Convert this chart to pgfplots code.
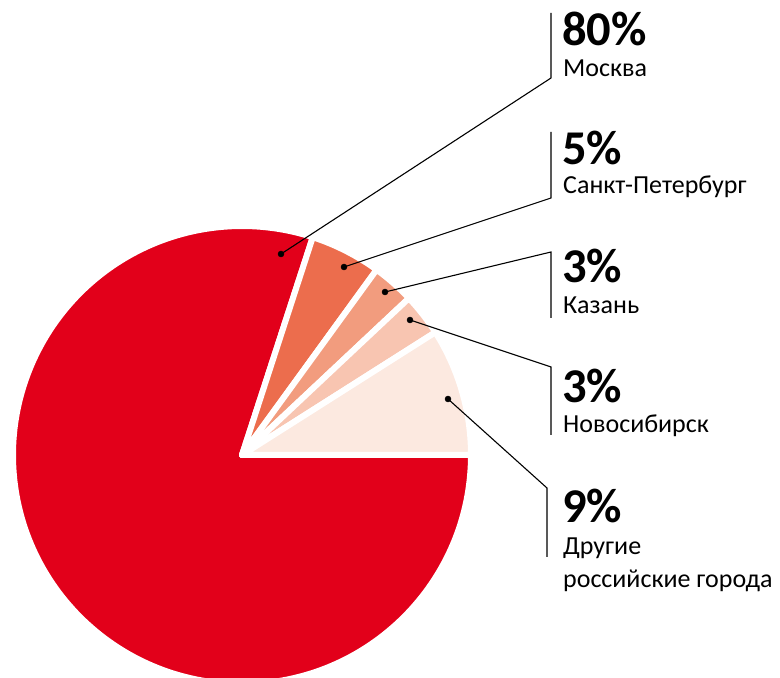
\documentclass[border=0pt]{standalone}
\usepackage{pgfplots}
\usepackage{pgfplotstable}
\pgfplotsset{compat=1.18}
\usepackage{fontspec}
\setmainfont{Carlito}
\definecolor{cMos}{HTML}{E2001A}
\definecolor{cSpb}{HTML}{EC6D4D}
\definecolor{cKaz}{HTML}{F29C7E}
\definecolor{cNov}{HTML}{F8C5B1}
\definecolor{cOth}{HTML}{FCE9E0}
% share of each city, percent (drawn clockwise from 3 o'clock)
\pgfplotstableread{
pct col
80 cMos
5 cSpb
3 cKaz
3 cNov
9 cOth
}\piedata
\newcommand{\pctfont}{\bfseries\fontsize{48.5}{50}\selectfont}
\newcommand{\namefont}{\fontsize{26}{33}\selectfont}
\begin{document}
\begin{tikzpicture}
\begin{axis}[
  x=1pt, y=1pt, scale only axis,
  xmin=0, xmax=780, ymin=0, ymax=678,
  hide axis, clip=true,
]
\def\cx{242}\def\cy{223}\def\rr{229}
\def\cum{0}
\pgfplotsforeachungrouped \i in {0,...,4}{%
  \pgfplotstablegetelem{\i}{pct}\of\piedata
  \let\p\pgfplotsretval
  \pgfplotstablegetelem{\i}{col}\of\piedata
  \let\c\pgfplotsretval
  \pgfmathsetmacro{\sa}{-3.6*\cum}%
  \pgfmathsetmacro{\ea}{-3.6*(\cum+\p)}%
  \pgfmathsetmacro{\cum}{\cum+\p}%
  \edef\temp{\noexpand\fill[fill=\c, draw=white, line width=6pt, line join=round]
    (axis cs:\cx,\cy) -- ++(\sa:\rr pt) arc[start angle=\sa, end angle=\ea, radius=\rr pt] -- cycle;}%
  \temp
}
% leader lines (pixel coords, y = 678 - py)
\addplot[black, line width=1.1pt] coordinates {(281,424) (551,600) (551,665)};
\addplot[black, line width=1.1pt] coordinates {(344,411) (551,480) (551,546)};
\addplot[black, line width=1.1pt] coordinates {(385,386) (551,426) (551,360)};
\addplot[black, line width=1.1pt] coordinates {(410,358) (551,311) (551,243)};
\addplot[black, line width=1.1pt] coordinates {(448,279) (547,190) (547,121)};
\addplot[only marks, mark=*, mark size=3pt, black] coordinates {(281,424) (344,411) (385,386) (410,358) (448,279)};
% labels
\node[anchor=base west, inner sep=0pt] at (axis cs:562,632) {\pctfont 80\%};
\node[anchor=base west, inner sep=0pt] at (axis cs:563,601) {\namefont Москва};
\node[anchor=base west, inner sep=0pt] at (axis cs:562,513) {\pctfont 5\%};
\node[anchor=base west, inner sep=0pt] at (axis cs:563,484) {\namefont Санкт-Петербург};
\node[anchor=base west, inner sep=0pt] at (axis cs:562,395) {\pctfont 3\%};
\node[anchor=base west, inner sep=0pt] at (axis cs:563,364) {\namefont Казань};
\node[anchor=base west, inner sep=0pt] at (axis cs:562,275) {\pctfont 3\%};
\node[anchor=base west, inner sep=0pt] at (axis cs:563,245) {\namefont Новосибирск};
\node[anchor=base west, inner sep=0pt] at (axis cs:562,155) {\pctfont 9\%};
\node[anchor=base west, inner sep=0pt] at (axis cs:563,123) {\namefont Другие};
\node[anchor=base west, inner sep=0pt] at (axis cs:563,90) {\namefont российские города};
\end{axis}
\pgfresetboundingbox
\path (current axis.south west) rectangle (current axis.north east);
\end{tikzpicture}
\end{document}
